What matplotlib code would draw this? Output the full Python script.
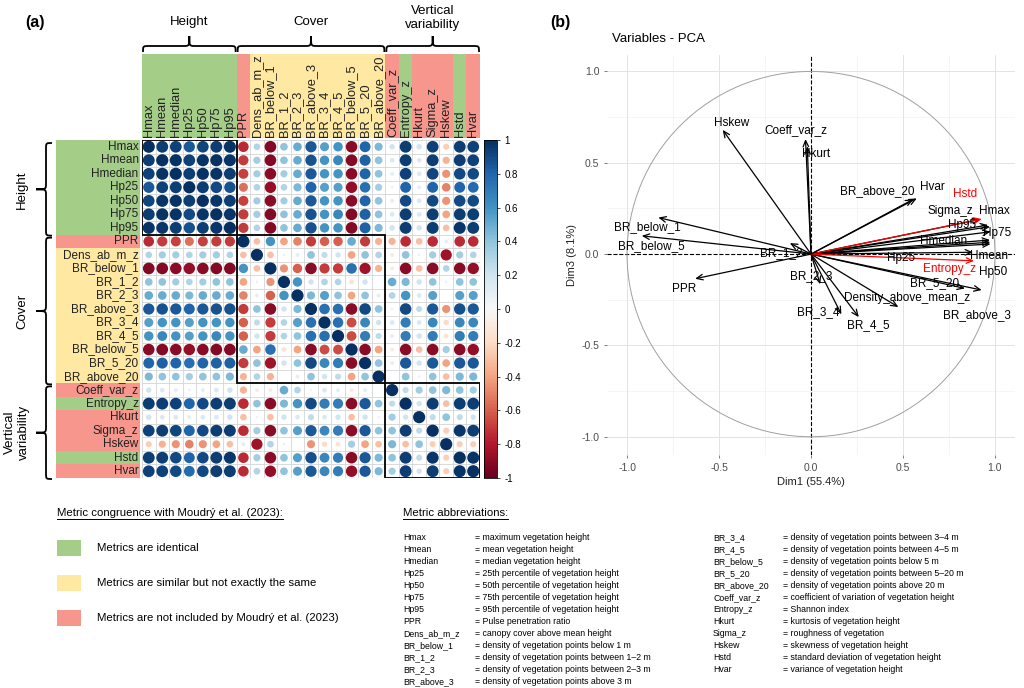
import matplotlib.pyplot as plt
import numpy as np
from matplotlib.collections import EllipseCollection
from matplotlib.patches import Rectangle, Circle, PathPatch
from matplotlib.path import Path
from matplotlib.colors import Normalize
from matplotlib.cm import ScalarMappable

plt.rcParams["font.family"] = ["Liberation Sans", "DejaVu Sans"]

# ---------------- data: correlation matrix (panel a) ----------------
metrics = ["Hmax", "Hmean", "Hmedian", "Hp25", "Hp50", "Hp75", "Hp95", "PPR",
           "Dens_ab_m_z", "BR_below_1", "BR_1_2", "BR_2_3", "BR_above_3", "BR_3_4",
           "BR_4_5", "BR_below_5", "BR_5_20", "BR_above_20", "Coeff_var_z",
           "Entropy_z", "Hkurt", "Sigma_z", "Hskew", "Hstd", "Hvar"]
# congruence: G identical, Y similar, R not included
congruence = ["G"] * 7 + ["R"] + ["Y"] * 10 + ["R", "G", "R", "R", "R", "G", "R"]

# upper triangle (values right of the diagonal), row by row
upper = [
    [.95, .93, .85, .92, .95, .98, -.75, .3, -.92, .4, .5, .85, .55, .6, -.9, .8, .45, .2, .95, .2, .93, -.25, .95, .93],
    [.99, .93, .98, .99, .97, -.7, .35, -.92, .4, .5, .87, .6, .65, -.92, .82, .4, .15, .95, .15, .95, -.35, .95, .93],
    [.95, .99, .98, .95, -.68, .35, -.9, .35, .5, .85, .6, .6, -.9, .8, .4, .1, .93, .15, .92, -.45, .9, .9],
    [.95, .9, .87, -.55, .3, -.88, .3, .45, .8, .55, .55, -.88, .75, .35, .05, .8, .1, .8, -.5, .8, .78],
    [.97, .94, -.68, .35, -.9, .35, .5, .85, .6, .6, -.9, .8, .4, .1, .9, .15, .9, -.45, .9, .9],
    [.97, -.7, .35, -.92, .4, .5, .87, .6, .65, -.92, .82, .4, .15, .95, .15, .95, -.4, .95, .95],
    [-.7, .3, -.92, .4, .5, .87, .6, .6, -.92, .82, .45, .2, .95, .2, .95, -.3, .97, .95],
    [-.3, .6, -.4, -.5, -.7, -.6, -.6, .5, -.7, -.35, -.35, -.75, -.3, -.75, .1, -.75, -.75],
    [-.3, .05, .1, .4, .25, .2, -.4, .4, .3, -.1, .4, .05, .35, -.85, .35, .3],
    [-.45, -.6, -.9, -.7, -.7, .75, -.85, -.35, -.1, -.9, -.3, -.9, .3, -.9, -.88],
    [.6, .2, .3, .3, -.15, .2, .0, .5, .45, .2, .4, .05, .4, .4],
    [.45, .55, .4, -.4, .4, .1, .3, .6, .15, .55, 0, .55, .55],
    [.75, .75, -.9, .9, .4, .05, .9, .25, .85, -.45, .88, .85],
    [.75, -.65, .65, .2, .15, .7, .15, .65, -.2, .65, .65],
    [-.65, .7, .25, .1, .7, .2, .7, -.15, .7, .7],
    [-.9, -.4, -.1, -.9, -.3, -.9, .35, -.9, -.88],
    [.4, .1, .85, .2, .85, -.4, .85, .85],
    [0, .4, .05, .4, -.3, .45, .45],
    [.25, .35, .4, .45, .4, .35],
    [.2, .95, -.3, .95, .95],
    [.25, .4, .25, .2],
    [-.25, .97, .95],
    [-.25, -.25],
    [.98],
]
n = len(metrics)
corr = np.eye(n)
for i, row in enumerate(upper):
    corr[i, i + 1:] = row
    corr[i + 1:, i] = row

groups = ["Height", "Cover", "Vertical\nvariability"]
group_size = [7, 11, 7]

# ---------------- data: PCA variables (panel b) ----------------
pca_vars = ["Hmax", "Hmean", "Hmedian", "Hp25", "Hp50", "Hp75", "Hp95", "PPR",
            "Density_above_mean_z", "BR_below_1", "BR_1_2", "BR_2_3", "BR_above_3",
            "BR_3_4", "BR_4_5", "BR_below_5", "BR_5_20", "BR_above_20", "Coeff_var_z",
            "Entropy_z", "Hkurt", "Sigma_z", "Hskew", "Hstd", "Hvar"]
dim1 = [0.973, 0.975, 0.973, 0.88, 0.976, 0.976, 0.963, -0.63, 0.475, -0.83, -0.115,
        0.05, 0.928, 0.165, 0.26, -0.92, 0.837, 0.556, -0.03, 0.886, -0.02, 0.92,
        -0.48, 0.928, 0.575]
dim3 = [0.15, 0.065, 0.077, 0.01, 0.055, 0.122, 0.159, -0.135, -0.29, 0.2, 0.06,
        -0.165, -0.197, -0.33, -0.345, 0.1, -0.188, 0.30, 0.63, -0.037, 0.59, 0.19,
        0.68, 0.192, 0.305]
lab_x = [0.995, 0.97, 0.72, 0.49, 0.99, 1.01, 0.82, -0.69, 0.52, -0.89, -0.16, 0.0,
         0.9, 0.04, 0.31, -0.87, 0.67, 0.36, -0.08, 0.755, 0.03, 0.76, -0.43, 0.84, 0.66]
lab_y = [0.235, -0.01, 0.07, -0.02, -0.1, 0.115, 0.16, -0.19, -0.24, 0.15, 0.005,
         -0.12, -0.335, -0.32, -0.39, 0.045, -0.16, 0.345, 0.68, -0.08, 0.55, 0.235,
         0.72, 0.33, 0.37]
highlight = ["Hstd", "Entropy_z"]

# ---------------- data: legend texts ----------------
legend_labels = ["Metrics are identical",
                 "Metrics are similar but not exactly the same",
                 "Metrics are not included by Moudrý et al. (2023)"]
abbr_left = ["Hmax", "Hmean", "Hmedian", "Hp25", "Hp50", "Hp75", "Hp95", "PPR",
             "Dens_ab_m_z", "BR_below_1", "BR_1_2", "BR_2_3", "BR_above_3"]
desc_left = ["maximum vegetation height", "mean vegetation height",
             "median vegetation height", "25th percentile of vegetation height",
             "50th percentile of vegetation height", "75th percentile of vegetation height",
             "95th percentile of vegetation height", "Pulse penetration ratio",
             "canopy cover above mean height", "density of vegetation points below 1 m",
             "density of vegetation points between 1–2 m",
             "density of vegetation points between 2–3 m",
             "density of vegetation points above 3 m"]
abbr_right = ["BR_3_4", "BR_4_5", "BR_below_5", "BR_5_20", "BR_above_20", "Coeff_var_z",
              "Entropy_z", "Hkurt", "Sigma_z", "Hskew", "Hstd", "Hvar"]
desc_right = ["density of vegetation points between 3–4 m",
              "density of vegetation points between 4–5 m",
              "density of vegetation points below 5 m",
              "density of vegetation points between 5–20 m",
              "density of vegetation points above 20 m",
              "coefficient of variation of vegetation height", "Shannon index",
              "kurtosis of vegetation height", "roughness of vegetation",
              "skewness of vegetation height", "standard deviation of vegetation height",
              "variance of vegetation height"]

cat_colors = {"G": "#a4cd88", "Y": "#fee8a2", "R": "#f6968c"}

W, H = 1024, 688
fig = plt.figure(figsize=(W / 100, H / 100), dpi=100)

# background overlay in pixel coordinates
bg = fig.add_axes([0, 0, 1, 1])
bg.set_xlim(0, W)
bg.set_ylim(H, 0)
bg.axis("off")


def brace(ax, a, b, base, mid, tip, vertical=False, r=6):
    m = (a + b) / 2
    pts = [(a, base), (a, mid), (a, mid), (a + r, mid), (m - r, mid),
           (m, mid), (m, mid), (m, tip), (m, mid), (m, mid), (m + r, mid),
           (b - r, mid), (b, mid), (b, mid), (b, base)]
    codes = [Path.MOVETO, Path.CURVE4, Path.CURVE4, Path.CURVE4, Path.LINETO,
             Path.CURVE4, Path.CURVE4, Path.CURVE4, Path.CURVE4, Path.CURVE4,
             Path.CURVE4, Path.LINETO, Path.CURVE4, Path.CURVE4, Path.CURVE4]
    if vertical:
        pts = [(p[1], p[0]) for p in pts]
    ax.add_patch(PathPatch(Path(pts, codes), fill=False, lw=1.3, color="black"))


# ---------------- panel (a): correlation matrix ----------------
mx0, my0, msz = 142, 140, 338
ax = fig.add_axes([mx0 / W, 1 - (my0 + msz) / H, msz / W, msz / H])
ax.set_xlim(0, n)
ax.set_ylim(n, 0)
ax.axis("off")

for k in range(n + 1):
    ax.plot([k, k], [0, n], color="#d4d4d4", lw=0.6, zorder=1)
    ax.plot([0, n], [k, k], color="#d4d4d4", lw=0.6, zorder=1)

cmap = plt.get_cmap("RdBu")
norm = Normalize(-1, 1)
xx, yy = np.meshgrid(np.arange(n) + 0.5, np.arange(n) + 0.5)
diam = 0.9 * np.sqrt(np.abs(corr))
ec = EllipseCollection(diam.ravel(), diam.ravel(), np.zeros(n * n), units="xy",
                       offsets=np.column_stack([xx.ravel(), yy.ravel()]),
                       offset_transform=ax.transData,
                       facecolors=cmap(norm(corr.ravel())), edgecolors="none", zorder=2)
ax.add_collection(ec)

# block rectangles
start = 0
for g in group_size:
    ax.add_patch(Rectangle((start, start), g, g, fill=False, lw=1.3, color="black", zorder=3))
    start += g

# colored label strips
strip = 6.35
for i, (m, c) in enumerate(zip(metrics, congruence)):
    ax.add_patch(Rectangle((-strip, i), strip - 0.12, 1, color=cat_colors[c], lw=0, clip_on=False))
    ax.text(-0.25, i + 0.5, m, ha="right", va="center", fontsize=8.5, color="#222222")
    ax.add_patch(Rectangle((i, -strip), 1, strip - 0.12, color=cat_colors[c], lw=0, clip_on=False))
    ax.text(i + 0.5, -0.2, m, ha="center", va="bottom", rotation=90, fontsize=9.3, color="#222222")

# colorbar
cax = fig.add_axes([484 / W, 1 - (my0 + msz) / H, 13 / W, msz / H])
cb = fig.colorbar(ScalarMappable(norm=norm, cmap=cmap), cax=cax)
ticks = np.round(np.arange(-1, 1.01, 0.2), 1) + 0.0
cb.set_ticks(ticks)
cb.set_ticklabels([("%g" % t).replace("-0", "0") if abs(t) < 1e-9 else "%g" % t for t in ticks])
cb.ax.tick_params(labelsize=7, length=2, width=0.5)
cb.outline.set_linewidth(0.6)

# braces and group titles
cell = msz / n
pos = mx0
for g, size in zip(groups, group_size):
    a, b = pos + 1, pos + size * cell - 1
    brace(bg, a, b, 52, 46, 36)
    brace(bg, a, b, 52, 46, 36, vertical=True)
    c = (a + b) / 2
    if "\n" in g:
        bg.text(c, 18, g, ha="center", va="center", fontsize=9.5, linespacing=1.2)
        bg.text(17, c, g, ha="center", va="center", fontsize=9.5, rotation=90, linespacing=1.2)
    else:
        bg.text(c, 22, g, ha="center", va="center", fontsize=9.5)
        bg.text(22, c, g, ha="center", va="center", fontsize=9.5, rotation=90)
    pos += size * cell

bg.text(35, 22, "(a)", fontsize=11.5, fontweight="bold", ha="center", va="center")
bg.text(560, 22, "(b)", fontsize=11.5, fontweight="bold", ha="center", va="center")

# ---------------- panel (b): PCA variables ----------------
px = fig.add_axes([607 / W, 1 - 455 / H, 408 / W, 400 / H])
px.set_xlim(-1.109, 1.109)
px.set_ylim(-1.10, 1.09)
for s in px.spines.values():
    s.set_visible(False)
for v in [-0.75, -0.25, 0.25, 0.75]:
    px.axvline(v, color="#f2f2f2", lw=0.5, zorder=0)
    px.axhline(v, color="#f2f2f2", lw=0.5, zorder=0)
for v in [-1, -0.5, 0.5, 1]:
    px.axvline(v, color="#e3e3e3", lw=0.7, zorder=0)
    px.axhline(v, color="#e3e3e3", lw=0.7, zorder=0)
px.axhline(0, color="black", lw=0.8, ls="--", zorder=1)
px.axvline(0, color="black", lw=0.8, ls="--", zorder=1)
px.add_patch(Circle((0, 0), 1, fill=False, color="#a0a0a0", lw=0.7))
px.set_xticks([-1, -0.5, 0, 0.5, 1])
px.set_yticks([-1, -0.5, 0, 0.5, 1])
px.set_xticklabels(["-1.0", "-0.5", "0.0", "0.5", "1.0"])
px.set_yticklabels(["-1.0", "-0.5", "0.0", "0.5", "1.0"])
px.tick_params(labelsize=7.5, colors="#4d4d4d", length=2, width=0.5)
px.set_xlabel("Dim1 (55.4%)", fontsize=8, color="#222222", labelpad=3)
px.set_ylabel("Dim3 (8.1%)", fontsize=8, color="#222222", labelpad=3)
px.text(0.012, 1.025, "Variables - PCA", transform=px.transAxes, fontsize=9.5, ha="left", va="bottom")

for name, x, y, lx, ly in zip(pca_vars, dim1, dim3, lab_x, lab_y):
    col = "red" if name in highlight else "black"
    px.annotate("", xy=(x, y), xytext=(0, 0),
                arrowprops=dict(arrowstyle="->,head_length=0.45,head_width=0.2",
                                color=col, lw=0.9, shrinkA=0, shrinkB=0), zorder=3)
    px.text(lx, ly, name, color=col, fontsize=8.5, ha="center", va="center", clip_on=True, zorder=4)

# ---------------- legend area ----------------
t1 = bg.text(57, 513, "Metric congruence with Moudrý et al. (2023):", fontsize=8.2, va="center")
for k, (lab, c) in enumerate(zip(legend_labels, ["G", "Y", "R"])):
    yc = 548 + k * 35
    bg.add_patch(Rectangle((57, yc - 8), 24, 16, color=cat_colors[c], lw=0))
    bg.text(97, yc, lab, fontsize=8.2, va="center")

t2 = bg.text(403, 513, "Metric abbreviations:", fontsize=8.2, va="center")
for k, (a, d) in enumerate(zip(abbr_left, desc_left)):
    bg.text(403, 538 + k * 12, a, fontsize=6.3, va="center")
    bg.text(475, 538 + k * 12, "= " + d, fontsize=6.3, va="center")
for k, (a, d) in enumerate(zip(abbr_right, desc_right)):
    bg.text(713, 538 + k * 12, a, fontsize=6.3, va="center")
    bg.text(783, 538 + k * 12, "= " + d, fontsize=6.3, va="center")

# underline the two headers
fig.canvas.draw()
for t in (t1, t2):
    bb = t.get_window_extent()
    bg.plot([bb.x0, bb.x1], [H - bb.y0 + 1, H - bb.y0 + 1], color="black", lw=0.7)

fig.savefig("out.png", dpi=100)
